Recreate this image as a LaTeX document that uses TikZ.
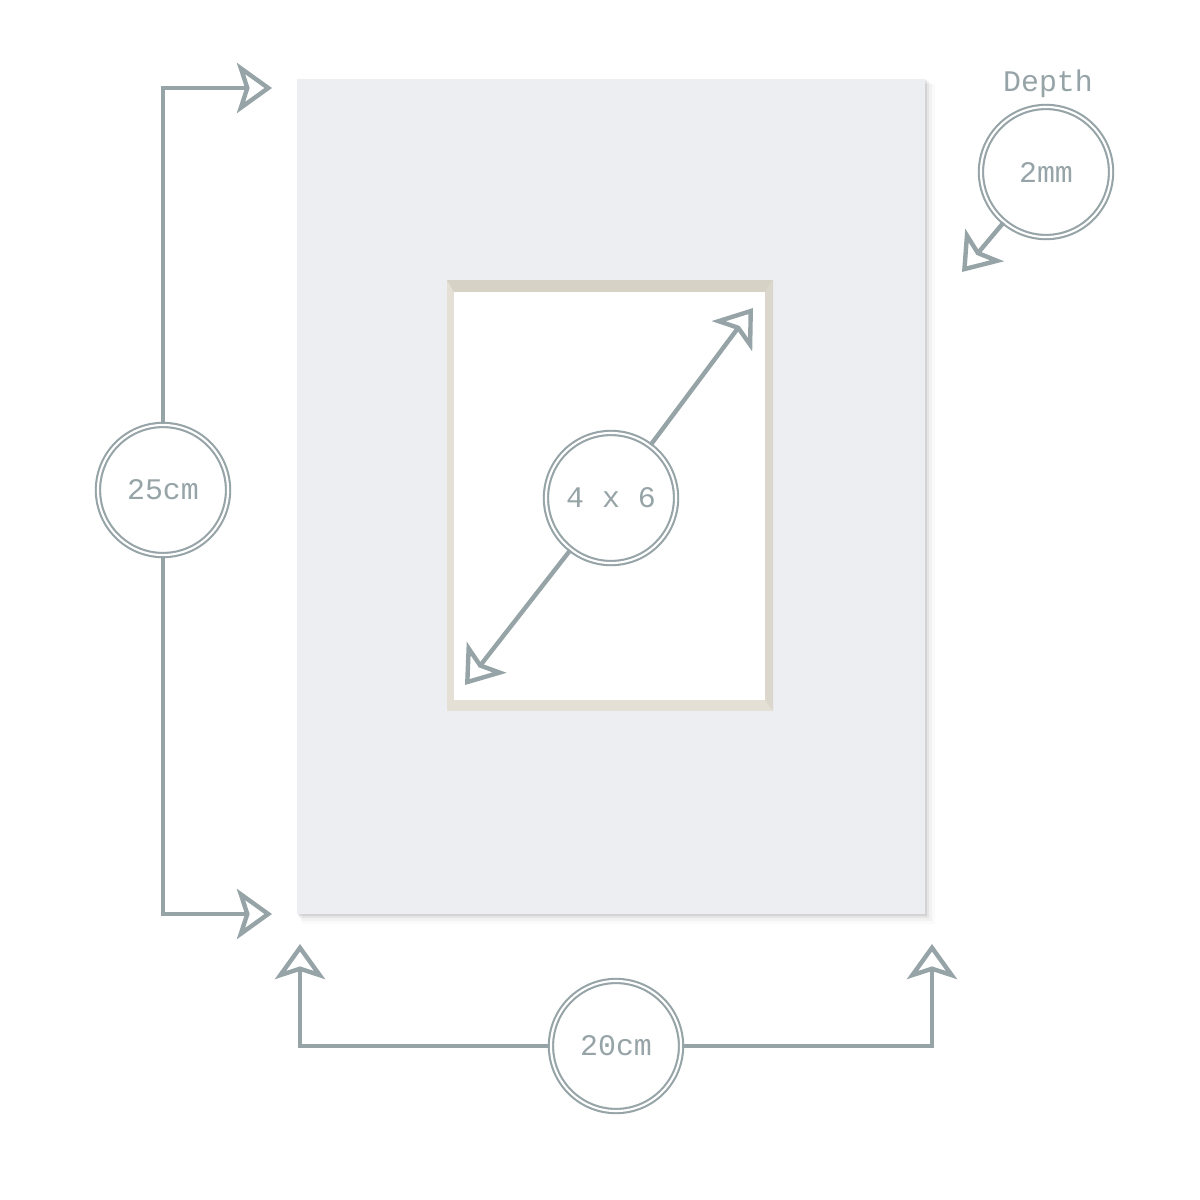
\documentclass[tikz,border=0pt]{standalone}
\usepackage{fontspec}
\setmonofont{Liberation Mono}
\usetikzlibrary{arrows.meta}
\definecolor{sketch}{RGB}{150,164,167}
\definecolor{board}{RGB}{236,238,241}
\definecolor{bevel}{RGB}{228,224,213}
\definecolor{bevelshade}{RGB}{214,210,198}
\tikzset{
  ring/.style={circle, draw=sketch, line width=0.6pt, double=white, double distance=0.6pt,
    minimum size=1.3cm, inner sep=0pt, text=sketch, font=\ttfamily\fontsize{8.5}{10}\selectfont},
  dimline/.style={draw=sketch, line width=1.25pt},
  opentip/.style={-{Stealth[open, length=0.35cm, width=0.5cm, inset=0.08cm]}},
}
\begin{document}
\begin{tikzpicture}[x=0.01cm, y=-0.01cm]
  \useasboundingbox[fill=white] (0,0) rectangle (1200,1200);
  % soft shadow under the board
  \foreach \s/\o in {2/0.07, 4/0.05, 7/0.03, 10/0.02}
    \fill[black, opacity=\o] (297+\s/2,79+\s/2) rectangle (925+\s,914+\s);
  % mount board
  \fill[board] (297,79) rectangle (925,914);
  % window with bevel
  \fill[bevel] (447,280) rectangle (773,711);
  \fill[bevelshade] (447,280) -- (773,280) -- (765,292) -- (454,292) -- cycle;
  \fill[bevelshade!60!bevel] (773,280) -- (773,711) -- (765,700) -- (765,292) -- cycle;
  \fill[white] (454,292) rectangle (765,700);

  % labels
  \node[ring] (tall) at (163,490) {25cm};
  \node[ring] (wide) at (616,1046) {20cm};
  \node[ring] (photo) at (611,498) {4 x 6};
  \node[ring] (deep) at (1046,172) {2mm};
  \node[text=sketch, font=\ttfamily\fontsize{8.5}{10}\selectfont] (deepname) at (1048,84) {Depth};

  % arrow ends
  \coordinate (tallTop) at (272,88);
  \coordinate (tallBot) at (272,914);
  \coordinate (wideLeft) at (300,944);
  \coordinate (wideRight) at (932,944);
  \coordinate (photoNE) at (753,308);
  \coordinate (photoSW) at (465,685);
  \coordinate (deepEnd) at (962,272);

  % dimension arrows
  \draw[dimline, opentip] (tall) |- (tallTop);
  \draw[dimline, opentip] (tall) |- (tallBot);
  \draw[dimline, opentip] (wide) -| (wideLeft);
  \draw[dimline, opentip] (wide) -| (wideRight);
  \draw[dimline, opentip] (photo) -- (photoNE);
  \draw[dimline, opentip] (photo) -- (photoSW);
  \draw[dimline, opentip] (deep) -- (deepEnd);
\end{tikzpicture}
\end{document}
